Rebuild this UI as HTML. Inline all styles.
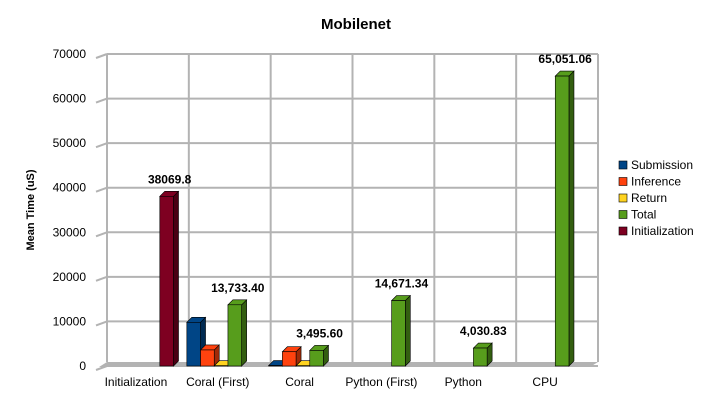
<!DOCTYPE html>
<html><head><meta charset="utf-8"><style>
body{margin:0;background:#fff;}
svg{display:block;font-family:"Liberation Sans",sans-serif;}
</style></head><body>
<svg id="c" width="712" height="401">
<text x="356" y="29" text-anchor="middle" font-size="15" font-weight="bold">Mobilenet</text>
<text transform="translate(34,210) rotate(-90)" text-anchor="middle" font-size="11" font-weight="bold">Mean Time (uS)</text>
<g id="grid"></g><g id="bars"></g><g id="labels"></g>
<g id="legend"></g>
</svg>
<script>
const categories=["Initialization","Coral (First)","Coral","Python (First)","Python","CPU"];
const seriesNames=["Submission","Inference","Return","Total","Initialization"];
const submission=[0,9800,100,0,0,0];
const inference=[0,3600,3200,0,0,0];
const returnVals=[0,60,60,0,0,0];
const total=[0,13733.40,3495.60,14671.34,4030.83,65051.06];
const initialization=[38069.8,0,0,0,0,0];
const totalLabels=["","13,733.40","3,495.60","14,671.34","4,030.83","65,051.06"];
const initLabels=["38069.8","","","","",""];
const yTicks=[0,10000,20000,30000,40000,50000,60000,70000];
const colors=[["#004586","#002a52"],["#ff420e","#a02a08"],["#ffd320","#a08410"],["#579d1c","#335e10"],["#7e0021","#4a0013"]];
const ns="http://www.w3.org/2000/svg";
const X0=99,X1=590,Y0=366,YT=54,DX=8,DY=4,VMAX=70000;
const cw=(X1-X0)/categories.length, bw=13.7;
function y(v){return Y0-(v/VMAX)*(Y0-YT);}
function mk(tag,attrs,parent){const e=document.createElementNS(ns,tag);for(const k in attrs)e.setAttribute(k,attrs[k]);parent.appendChild(e);return e;}
const grid=document.getElementById('grid');
mk('polygon',{points:`${X0},${Y0+1} ${X1},${Y0+1} ${X1+DX},${Y0-DY} ${X0+DX},${Y0-DY}`,fill:'#b3b3b3'},grid);
yTicks.forEach(t=>{
  const l=mk('line',{x1:X0+DX,x2:X1+DX,y1:y(t),y2:y(t),stroke:'#b3b3b3','stroke-width':2},grid);
  
  
  mk('line',{x1:X0-3,x2:X0+DX,y1:y(t)+4,y2:y(t),stroke:'#b3b3b3','stroke-width':2},grid);
  const tx=mk('text',{x:86,y:y(t)+4,'text-anchor':'end','font-size':12},grid);
  tx.textContent=t;
  
  
});
for(let i=0;i<=categories.length;i++){
  const xx=X0+DX+i*cw;
  mk('line',{x1:xx,x2:xx,y1:y(VMAX),y2:Y0-DY,stroke:'#b3b3b3','stroke-width':2},grid);
}
categories.forEach((c,i)=>{
  const t=mk('text',{x:X0+cw*i+cw/2-4,y:386,'text-anchor':'middle','font-size':12},grid);
  t.textContent=c;
  
  
});
const series=[submission,inference,returnVals,total,initialization];
const bars=document.getElementById('bars'),labels=document.getElementById('labels');
categories.forEach((c,i)=>{
  series.forEach((s,k)=>{
    const v=s[i]; if(v<=0)return;
    const x=X0+cw*i+6+k*bw, top=y(v), d=5;
    const g=mk('g',{},bars);
    
    
    mk('polygon',{points:`${x+bw},${top} ${x+bw+d},${top-d} ${x+bw+d},${Y0-d} ${x+bw},${Y0}`,fill:colors[k][1],stroke:'#000','stroke-width':0.6},g);
    mk('polygon',{points:`${x},${top} ${x+d},${top-d} ${x+bw+d},${top-d} ${x+bw},${top}`,fill:colors[k][0],stroke:'#000','stroke-width':0.6},g);
    mk('rect',{x:x,y:top,width:bw,height:Y0-top,fill:colors[k][0],stroke:'#000','stroke-width':0.6},g);
    let lab=k===3?totalLabels[i]:(k===4?initLabels[i]:"");
    if(lab){
      const t=mk('text',{x:x+bw/2+3,y:top-13,'text-anchor':'middle','font-size':12,'font-weight':'bold'},labels);
      t.textContent=lab;
      
      
    }
  });
});
const lg=document.getElementById('legend');
seriesNames.forEach((n,k)=>{
  const yy=160+k*16.5;
  const g=mk('g',{},lg);
  
  
  mk('rect',{x:619,y:yy+1,width:8,height:8,fill:colors[k][0],stroke:'#000','stroke-width':0.6},g);
  const t=mk('text',{x:631,y:yy+9,'font-size':12},g);
  t.textContent=n;
});
</script>
</body></html>
